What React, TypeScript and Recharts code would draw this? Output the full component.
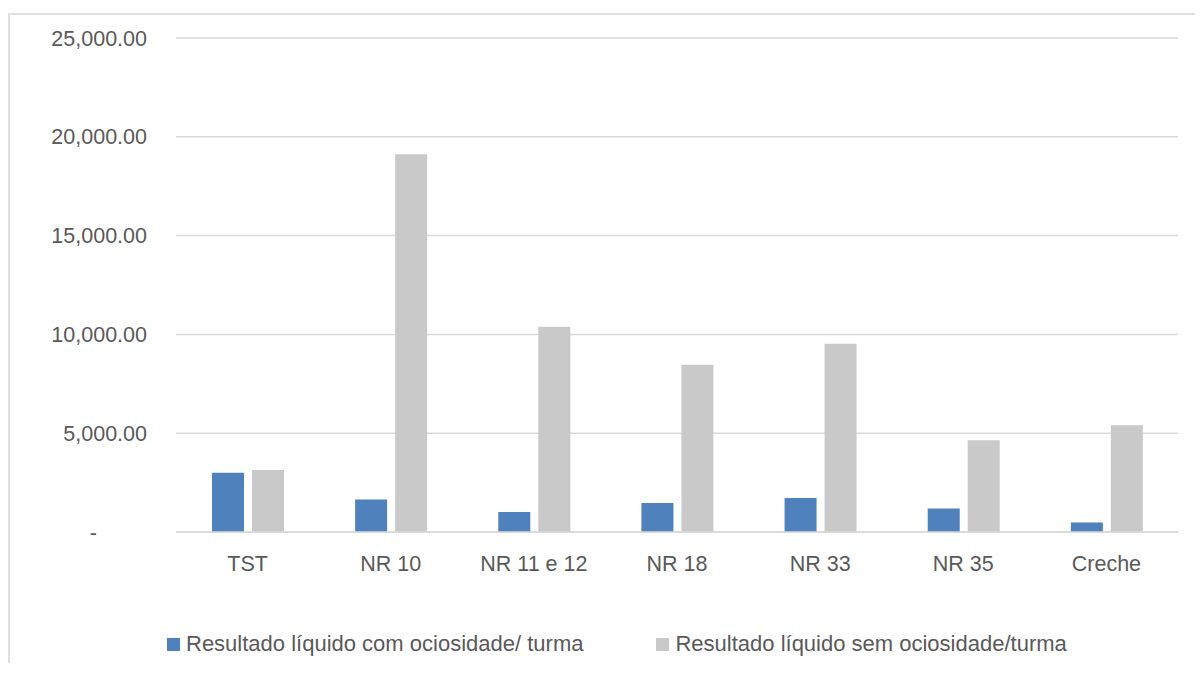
import React from "react";
import { BarChart, Bar, XAxis, YAxis, CartesianGrid, Legend } from "recharts";

const categories = ["TST", "NR 10", "NR 11 e 12", "NR 18", "NR 33", "NR 35", "Creche"];
const comOciosidade = [2995, 1645, 1015, 1472, 1726, 1188, 477];
const semOciosidade = [3132, 19122, 10391, 8462, 9528, 4640, 5401];
const yTicks = [0, 5000, 10000, 15000, 20000, 25000];
const seriesNames = [
  "Resultado líquido com ociosidade/ turma",
  "Resultado líquido sem ociosidade/turma",
];
const seriesColors = ["#4F81BD", "#C9C9C9"];

const data = categories.map((c, i) => ({
  name: c,
  com: comOciosidade[i],
  sem: semOciosidade[i],
}));

const FONT = "'Liberation Sans', Arial, sans-serif";
const TEXT = "#595959";

const fmt = (v: number) =>
  v.toLocaleString("en-US", { minimumFractionDigits: 2, maximumFractionDigits: 2 });

const YTick = (props: any) => {
  const { x, y, payload } = props;
  const v = payload.value as number;
  if (v === 0) {
    return (
      <text x={x - 50} y={y} dy="0.355em" textAnchor="end" fill={TEXT} fontSize={21.5} fontFamily={FONT}>
        -
      </text>
    );
  }
  return (
    <text x={x} y={y} dy="0.355em" textAnchor="end" fill={TEXT} fontSize={21.5} fontFamily={FONT}>
      {fmt(v)}
    </text>
  );
};

const LegendContent = () => (
  <div style={{ display: "flex", alignItems: "center", fontFamily: FONT, fontSize: 22, color: TEXT, whiteSpace: "nowrap" }}>
    {seriesNames.map((n, i) => (
      <div key={n} style={{ display: "flex", alignItems: "center", marginRight: i === 0 ? 73 : 0 }}>
        <span style={{ display: "inline-block", width: 13, height: 13, background: seriesColors[i], marginRight: 6 }} />
        <span>{n}</span>
      </div>
    ))}
  </div>
);

export default function App() {
  return (
    <div
      style={{
        marginTop: 5,
        marginBottom: -10,
        width: 1185,
        height: 658,
        borderTop: "2px solid #E0E0E0",
        borderLeft: "2px solid #E0E0E0",
        background: "#fff",
        position: "relative",
      }}
    >
      <BarChart
        width={1185}
        height={650}
        data={data}
        margin={{ top: 23, right: 17, bottom: 73, left: 0 }}
        barSize={32}
        barGap={8}
      >
        <CartesianGrid horizontal vertical={false} stroke="#D9D9D9" strokeWidth={1.5} />
        <XAxis
          dataKey="name"
          axisLine={{ stroke: "#D9D9D9", strokeWidth: 1.5 }}
          tickLine={false}
          tickSize={0}
          tickMargin={24}
          tick={{ fill: TEXT, fontSize: 21.5, fontFamily: FONT }}
          interval={0}
        />
        <YAxis
          width={166}
          domain={[0, 25000]}
          ticks={yTicks}
          axisLine={false}
          tickLine={false}
          tickSize={0}
          tickMargin={29}
          tick={<YTick />}
          interval={0}
        />
        <Legend
          verticalAlign="bottom"
          content={<LegendContent />}
          wrapperStyle={{ position: "absolute", left: 157, top: 616, width: "auto", height: 30 }}
        />
        <Bar dataKey="com" name={seriesNames[0]} fill={seriesColors[0]} isAnimationActive={false} />
        <Bar dataKey="sem" name={seriesNames[1]} fill={seriesColors[1]} isAnimationActive={false} />
      </BarChart>
    </div>
  );
}
